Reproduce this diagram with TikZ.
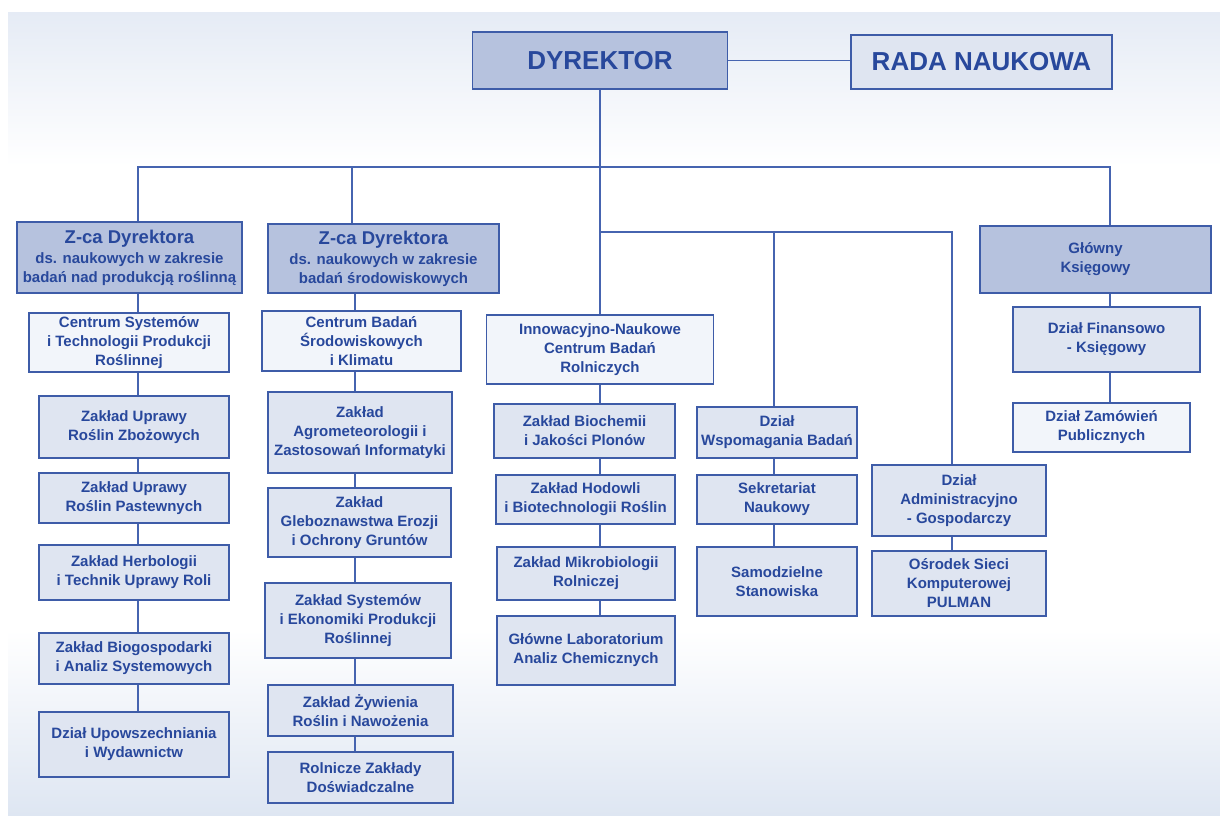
\documentclass[tikz,border=0pt]{standalone}
\usepackage{fontspec}
\setmainfont{Liberation Sans}
\usepackage{tikz}

\definecolor{boxline}{RGB}{62,92,168}
\definecolor{linkcol}{RGB}{70,100,176}
\definecolor{txt}{RGB}{40,72,156}
\definecolor{darkfill}{RGB}{182,194,222}
\definecolor{midfill}{RGB}{223,229,241}
\definecolor{litefill}{RGB}{242,245,250}
\definecolor{bgtop}{RGB}{229,235,245}
\definecolor{bgbot}{RGB}{222,230,242}

\tikzset{wh/.style 2 args={minimum width=#1, minimum height=#2}}

\begin{document}
\begin{tikzpicture}[x=1pt,y=-1pt]
        \tikzstyle{unit}=[draw=boxline, line width=1.8pt, text=txt, align=center, inner sep=2pt,
                          font=\bfseries\fontsize{15}{19}\selectfont]
        \tikzstyle{head}=[unit, fill=darkfill]
        \tikzstyle{mid}=[unit, fill=midfill]
        \tikzstyle{lite}=[unit, fill=litefill]
        \tikzstyle{link}=[draw=linkcol, line width=1.6pt]
        \newcommand{\zca}{\fontsize{18.5}{21}\selectfont Z-ca Dyrektora\\[1pt]}

        \useasboundingbox (0,0) rectangle (1220,815);
        % background bands
        \shade[top color=bgtop, bottom color=white] (8,12) rectangle (1220,166);
        \fill[white] (8,165) rectangle (1220,631);
        \shade[top color=white, bottom color=bgbot] (8,630) rectangle (1220,815);

        % top
        \node[head, wh={255}{57}, font=\bfseries\fontsize{26}{30}\selectfont] (dyr) at (600,60.5) {DYREKTOR};
        \node[mid, wh={261}{54}, font=\bfseries\fontsize{26}{30}\selectfont] (rada) at (981.5,62) {RADA NAUKOWA};

        % deputies
        \node[head, wh={225}{71}] (zca1) at (129.5,257.5) {\zca ds. naukowych w zakresie\\badań nad produkcją roślinną};
        \node[head, wh={231}{69}] (zca2) at (383.5,258.5) {\zca ds. naukowych w zakresie\\badań środowiskowych};
        \node[head, wh={231}{67}] (gk)   at (1095.5,259.5) {Główny\\Księgowy};

        % column 1
        \node[lite, wh={200}{59}] (csys) at (129,342.5) {Centrum Systemów\\i Technologii Produkcji\\Roślinnej};
        \node[mid, wh={190}{62}] (zuz)  at (134,427)   {Zakład Uprawy\\Roślin Zbożowych};
        \node[mid, wh={190}{50}] (zup)  at (134,498)   {Zakład Uprawy\\Roślin Pastewnych};
        \node[mid, wh={190}{55}] (zher) at (134,572.5) {Zakład Herbologii\\i Technik Uprawy Roli};
        \node[mid, wh={190}{51}] (zbio) at (134,658.5) {Zakład Biogospodarki\\i Analiz Systemowych};
        \node[mid, wh={190}{65}] (dup)  at (134,744.5) {Dział Upowszechniania\\i Wydawnictw};

        % column 2
        \node[lite, wh={199}{60}] (cbad)  at (361.5,341)   {Centrum Badań\\Środowiskowych\\i Klimatu};
        \node[mid, wh={184}{81}] (zagr)  at (360,432.5)   {Zakład\\Agrometeorologii i\\Zastosowań Informatyki};
        \node[mid, wh={183}{69}] (zgleb) at (359.5,522.5) {Zakład\\Gleboznawstwa Erozji\\i Ochrony Gruntów};
        \node[mid, wh={186}{75}] (zsys)  at (358,620.5)   {Zakład Systemów\\i Ekonomiki Produkcji\\Roślinnej};
        \node[mid, wh={185}{51}] (zzyw)  at (360.5,710.5) {Zakład Żywienia\\Roślin i Nawożenia};
        \node[mid, wh={185}{51}] (rzd)   at (360.5,777.5) {Rolnicze Zakłady\\Doświadczalne};

        % column 3
        \node[lite, wh={227}{69}] (inno) at (600,349.5)  {Innowacyjno-Naukowe\\Centrum Badań\\Rolniczych};
        \node[mid, wh={181}{54}] (zbch) at (584.5,431)  {Zakład Biochemii\\i Jakości Plonów};
        \node[mid, wh={179}{49}] (zhod) at (585.5,499.5) {Zakład Hodowli\\i Biotechnologii Roślin};
        \node[mid, wh={178}{53}] (zmik) at (586,573.5)  {Zakład Mikrobiologii\\Rolniczej};
        \node[mid, wh={178}{69}] (glab) at (586,650.5)  {Główne Laboratorium\\Analiz Chemicznych};

        % column 4
        \node[mid, wh={160}{51}] (dwsp) at (777,432.5) {Dział\\Wspomagania Badań};
        \node[mid, wh={160}{49}] (sekr) at (777,499.5) {Sekretariat\\Naukowy};
        \node[mid, wh={160}{69}] (samo) at (777,581.5) {Samodzielne\\Stanowiska};

        % column 5
        \node[mid, wh={174}{71}] (dadm) at (959,500.5) {Dział\\Administracyjno\\- Gospodarczy};
        \node[mid, wh={174}{65}] (osk)  at (959,583.5) {Ośrodek Sieci\\Komputerowej\\PULMAN};

        % column 6
        \node[mid, wh={187}{65}] (dfin) at (1106.5,339.5) {Dział Finansowo\\- Księgowy};
        \node[lite, wh={177}{49}] (dzam) at (1101.5,427.5) {Dział Zamówień\\Publicznych};

        % spines
        \coordinate (s1) at (138,167);
        \coordinate (s2) at (352,167);
        \coordinate (s3) at (600,232);
        \coordinate (s4) at (774,232);
        \coordinate (s5) at (952,232);
        \coordinate (s6) at (1110,167);
        \coordinate (s7) at (355,300);

        \draw[link] (dyr.east) -- (dyr.east -| rada.west);         % dyr->rada
        \draw[link] (dyr.south) -- (inno.north);                   % dyr->inno
        \draw[link] (s1 |- zca1.north) |- (s6) -- (s6 |- gk.north); % bus
        \draw[link] (s2) -- (s2 |- zca2.north);                    % bus->zca2
        \draw[link] (s3) -| (s5 |- dadm.north);                    % inno->adm
        \draw[link] (s4) -- (s4 |- dwsp.north);                    % ->dwsp

        \foreach \a/\b in {zca1/csys, csys/zuz, zuz/zup, zup/zher, zher/zbio, zbio/dup}
            \draw[link] (s1 |- \a.south) -- (s1 |- \b.north);
        \foreach \a/\b in {zca2/cbad, cbad/zagr, zagr/zgleb, zgleb/zsys, zsys/zzyw, zzyw/rzd}
            \draw[link] (s7 |- \a.south) -- (s7 |- \b.north);
        \foreach \a/\b in {inno/zbch, zbch/zhod, zhod/zmik, zmik/glab}
            \draw[link] (s3 |- \a.south) -- (s3 |- \b.north);
        \foreach \a/\b in {dwsp/sekr, sekr/samo}
            \draw[link] (s4 |- \a.south) -- (s4 |- \b.north);
        \draw[link] (s5 |- dadm.south) -- (s5 |- osk.north);       % adm->osk
        \foreach \a/\b in {gk/dfin, dfin/dzam}
            \draw[link] (s6 |- \a.south) -- (s6 |- \b.north);

\end{tikzpicture}
\end{document}
